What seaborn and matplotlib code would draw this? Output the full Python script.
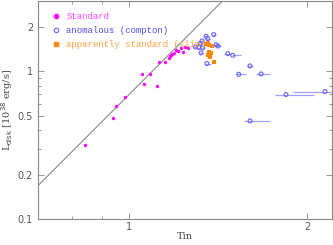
import numpy as np
import pandas as pd
import seaborn as sns
import matplotlib.pyplot as plt
from matplotlib.lines import Line2D

# standard disk states
std_T = [0.842, 0.938, 0.949, 0.983, 1.05, 1.059, 1.084, 1.112, 1.124, 1.15,
         1.165, 1.17, 1.175, 1.18, 1.19, 1.20, 1.21, 1.225, 1.23, 1.24, 1.255]
std_L = [0.316, 0.479, 0.586, 0.671, 0.955, 0.826, 0.955, 0.80, 1.156, 1.16,
         1.22, 1.26, 1.29, 1.30, 1.33, 1.39, 1.38, 1.43, 1.36, 1.46, 1.44]

# anomalous (compton) states, with asymmetric Tin errors
ano_T = [1.348, 1.389, 1.327, 1.317, 1.293, 1.31, 1.33, 1.322, 1.357, 1.402,
         1.411, 1.467, 1.496, 1.353, 1.60, 1.531, 1.671, 2.143, 1.841, 1.60]
ano_L = [1.724, 1.77, 1.603, 1.54, 1.46, 1.447, 1.437, 1.33, 1.663, 1.515,
         1.482, 1.317, 1.283, 1.127, 1.086, 0.954, 0.959, 0.729, 0.696, 0.461]
ano_lo = [0.01, 0.01, 0.01, 0.01, 0.01, 0.01, 0.01, 0.01, 0.01, 0.02,
          0.02, 0.02, 0.005, 0.01, 0.02, 0.016, 0.033, 0.25, 0.074, 0.035]
ano_hi = [0.01, 0.01, 0.01, 0.01, 0.01, 0.01, 0.01, 0.01, 0.01, 0.02,
          0.02, 0.02, 0.05, 0.02, 0.02, 0.045, 0.059, 0.2, 0.214, 0.13]

# apparently standard (slim) states
slim_T = [1.348, 1.357, 1.366, 1.380, 1.362, 1.375, 1.357, 1.369, 1.389]
slim_L = [1.54, 1.563, 1.498, 1.482, 1.35, 1.33, 1.283, 1.249, 1.156]

# L proportional to Tin^4
norm = 0.70

magenta = "#ff00ff"
blue = "#6464ff"
orange = "#ff8800"

sns.set_style("ticks")
fig, ax = plt.subplots(figsize=(3.33, 2.45), dpi=100)
fig.subplots_adjust(left=0.114, right=0.996, bottom=0.106, top=0.997)

ax.set_xscale("log")
ax.set_yscale("log")

line_T = np.array([0.7, 2.2])
sns.lineplot(x=line_T, y=norm * line_T ** 4, color="#888888", lw=0.8, ax=ax)

ax.errorbar(ano_T, ano_L, xerr=[ano_lo, ano_hi], fmt="none", ecolor="#a0a0ff",
            elinewidth=0.9, capsize=0, zorder=2)
sns.scatterplot(x=ano_T, y=ano_L, marker="o", s=8, facecolor="none",
                edgecolor=blue, linewidth=0.8, ax=ax, zorder=3)
sns.scatterplot(x=slim_T, y=slim_L, marker="s", s=5, color=orange,
                edgecolor=orange, linewidth=0, ax=ax, zorder=4)
sns.scatterplot(x=std_T, y=std_L, marker="o", s=6, color=magenta,
                edgecolor=magenta, linewidth=0, ax=ax, zorder=5)

ax.set_xlim(0.7, 2.2)
ax.set_ylim(0.1, 3.0)
ax.set_xticks([1, 2])
ax.set_xticklabels(["1", "2"])
ax.set_yticks([0.1, 0.2, 0.5, 1, 2])
ax.set_yticklabels(["0.1", "0.2", "0.5", "1", "2"])
ax.tick_params(which="both", direction="in", top=True, right=True,
               colors="#888888", labelcolor="#555555", labelsize=7)
ax.tick_params(which="major", length=4, width=0.6)
ax.tick_params(which="minor", length=2, width=0.6)
ax.tick_params(axis="x", pad=2)
for sp in ax.spines.values():
    sp.set_color("#888888")
    sp.set_linewidth(0.8)

ax.set_xlabel("Tin", family="DejaVu Serif", fontsize=7, color="#444444", labelpad=0)
ax.set_ylabel(r"L$_{\rm disk}$ [10$^{38}$ erg/s]", family="DejaVu Serif",
              fontsize=7, color="#444444", labelpad=2)

handles = [
    Line2D([], [], marker="o", ls="none", color=magenta, markersize=3),
    Line2D([], [], marker="o", ls="none", mfc="none", mec=blue, markersize=3.2, mew=0.8),
    Line2D([], [], marker="s", ls="none", color=orange, markersize=2.5),
]
labels = ["Standard", "anomalous (compton)", "apparently standard (slim)"]
leg = ax.legend(handles, labels, loc="upper left", frameon=False,
                prop={"family": "Liberation Mono", "size": 6.5},
                labelcolor=["#ff44ff", "#5050ee", "#ffa040"],
                handletextpad=0.6, handlelength=1.0, labelspacing=0.55,
                borderaxespad=0.5, bbox_to_anchor=(0.02, 0.985))

fig.savefig("out.png", dpi=100)
